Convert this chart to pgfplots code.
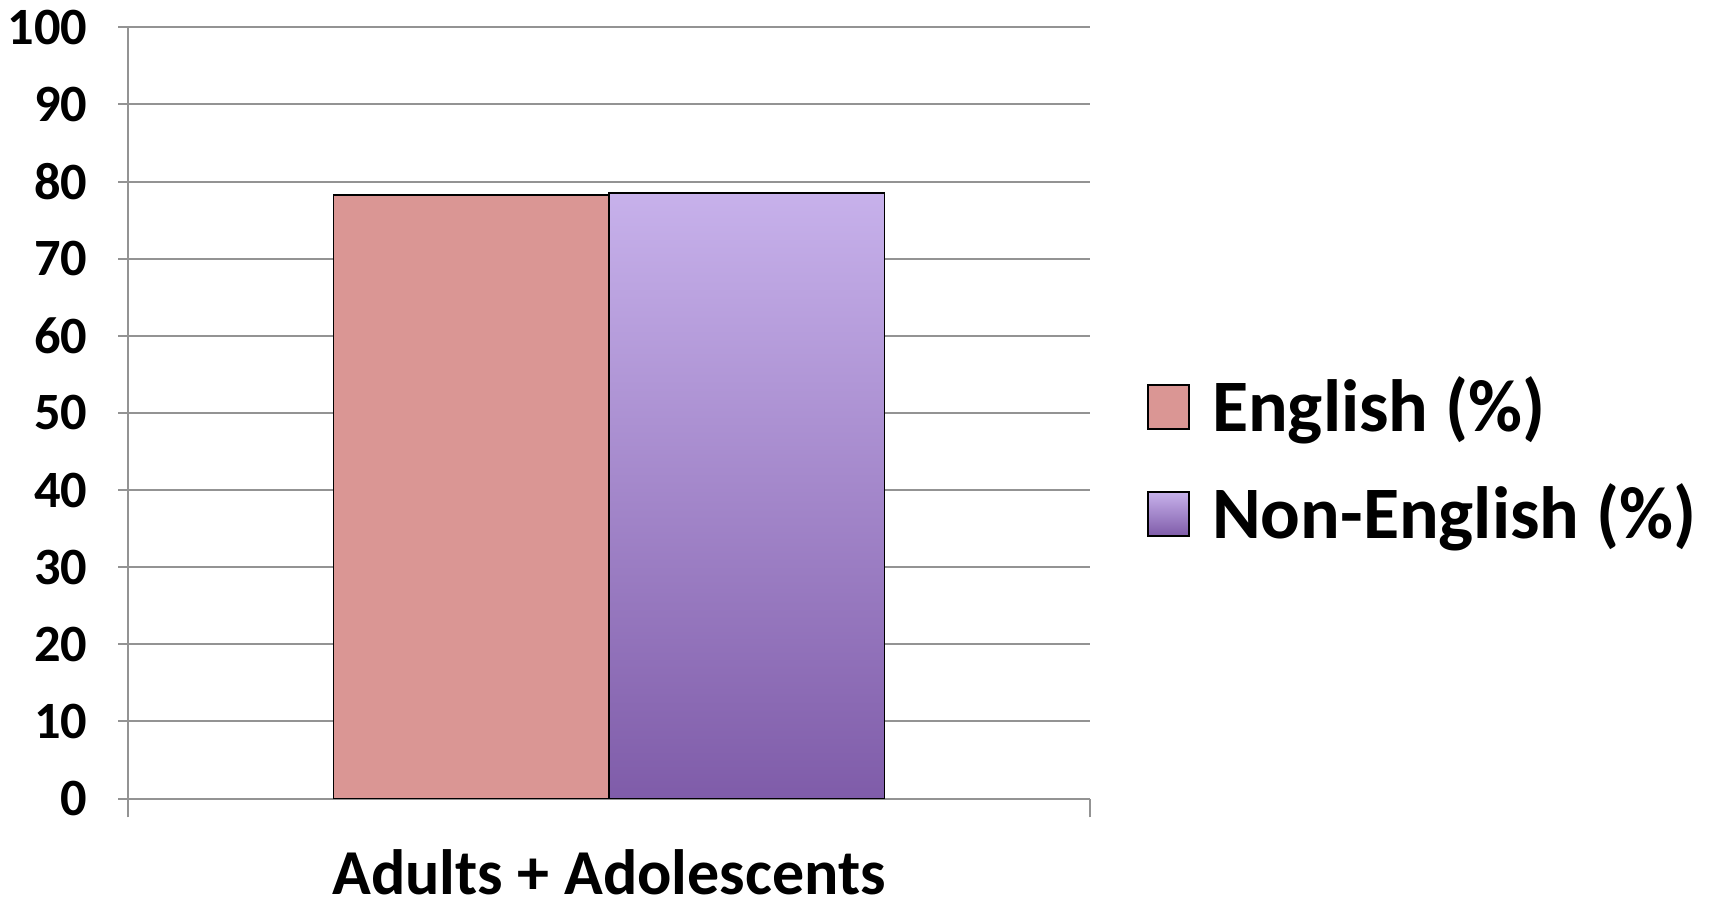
\documentclass[border=0pt]{standalone}
\usepackage{fontspec}
\setmainfont{Carlito}
\usepackage{pgfplots}
\pgfplotsset{compat=1.18}
\definecolor{engfill}{HTML}{DA9694}
\definecolor{ntop}{HTML}{C7B1EB}
\definecolor{nbot}{HTML}{7F5CA9}
\definecolor{gridgray}{HTML}{939393}
\begin{document}
\begin{tikzpicture}
\useasboundingbox (0,0) rectangle (428.25pt,227.25pt);
\begin{axis}[
  name=main,
  at={(31.95pt,27.6pt)}, anchor=south west,
  scale only axis, width=240.625pt, height=192.825pt,
  xmin=-1, xmax=1, ymin=0, ymax=100,
  ytick={0,10,...,100},
  xtick={-1,1}, xticklabels={},
  tick align=outside, major tick length=4.7pt,
  tick style={gridgray, line width=0.5pt},
  ymajorgrids, grid style={gridgray, line width=0.5pt},
  axis x line=bottom, axis y line=left,
  axis line style={gridgray, line width=0.5pt, -},
  /pgf/number format/assume math mode=true,
  yticklabel style={font=\fontsize{13.1pt}{15pt}\selectfont\bfseries, xshift=-4.2pt},
  ybar=0pt, bar width=0.5725,
  legend style={draw=none, fill=none, inner sep=0pt, outer sep=0pt,
    at={(axis description cs:1.059,0.4297)}, anchor=west,
    font=\fontsize{18.5pt}{22pt}\selectfont\bfseries,
    nodes={inner sep=0pt, text height=14pt, text depth=5pt, anchor=west},
    row sep=7.75pt, column sep=5.5pt},
  legend cell align=left,
  legend image code/.code={\draw[#1,bar shift=0pt] (0pt,-3.8pt) rectangle (10.3pt,7.1pt);},
]
\addplot[draw=black, line width=0.45pt, fill=engfill] coordinates {(0,78.3)};
\addlegendentry{English (\%)}
\addplot[draw=black, line width=0.45pt, top color=ntop, bottom color=nbot] coordinates {(0,78.5)};
\addlegendentry{Non-English (\%)}
\end{axis}
\node[anchor=base, inner sep=0pt, font=\fontsize{16pt}{19pt}\selectfont\bfseries, yshift=-24pt] at (main.south) {Adults + Adolescents};
\end{tikzpicture}
\end{document}
